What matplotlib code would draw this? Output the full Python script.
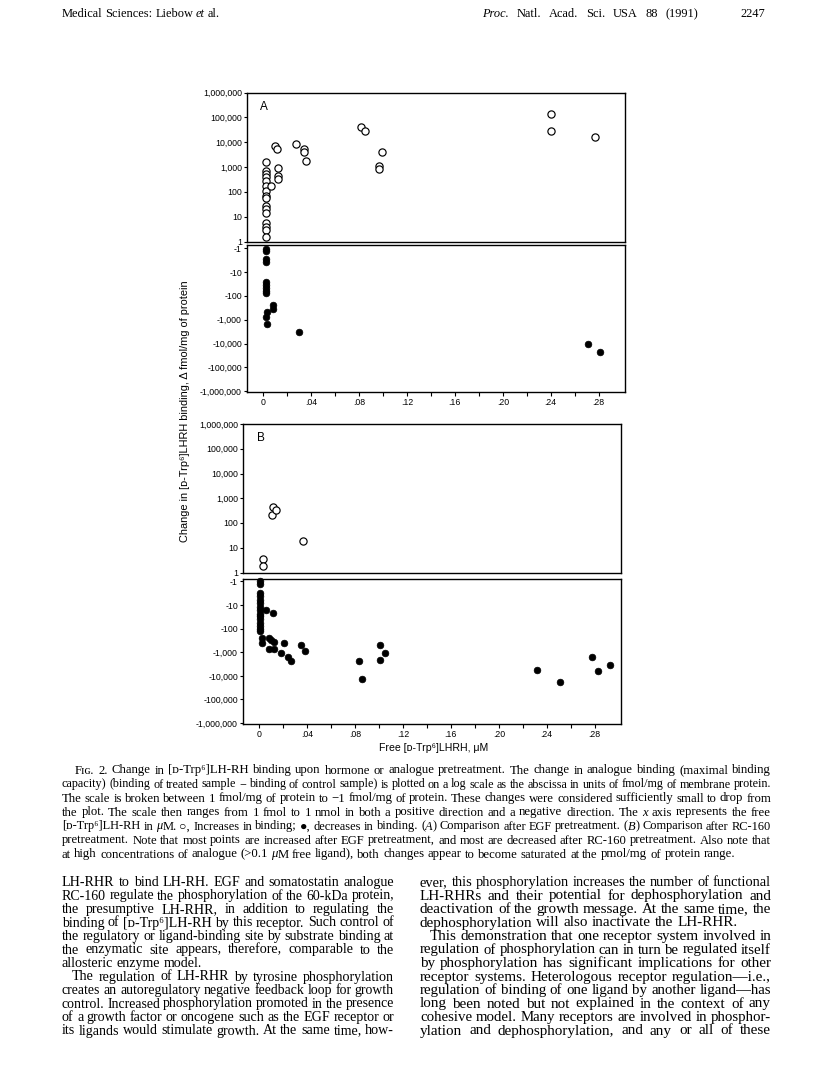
import numpy as np
import matplotlib
matplotlib.use('Agg')
import matplotlib.pyplot as plt
from matplotlib.ticker import FixedLocator, FuncFormatter, NullLocator
from matplotlib.font_manager import FontProperties

W, H, DPI = 816, 1082, 100

# ---------------- data (free ligand in uM, change in fmol/mg) ----------------
a_inc_x = [0.002] * 16 + [0.0068, 0.0095, 0.0117, 0.0127, 0.0127, 0.0127,
                          0.0272, 0.0342, 0.0342, 0.036, 0.0819, 0.0848,
                          0.0989, 0.0963, 0.0963, 0.2403, 0.2403, 0.277]
a_inc_y = [1580, 710, 520, 380, 275, 170, 107, 71, 57, 26, 20, 14, 5.4, 3.9,
           2.8, 1.5, 170, 7000, 5300, 900, 420, 320, 8500, 5500, 3900, 1800,
           40000, 29000, 4200, 1100, 800, 132000, 28000, 16500]

a_dec_x = [0.002] * 9 + [0.003, 0.002, 0.003, 0.0079, 0.0079, 0.0303,
                         0.2713, 0.281]
a_dec_y = [-1.1, -1.3, -2.8, -3.7, -27, -36, -48, -62, -76, -470, -800,
           -1500, -250, -350, -3200, -10200, -23000]

b_inc_x = [0.003, 0.003, 0.0104, 0.0115, 0.0144, 0.0369]
b_inc_y = [3.6, 1.9, 215, 430, 345, 19]

b_dec_x = [0.001] * 15 + [0.006, 0.0115, 0.002, 0.002, 0.0078, 0.0098,
                          0.0121, 0.0078, 0.0121, 0.0207, 0.0184, 0.0242,
                          0.0265, 0.0352, 0.0386, 0.083, 0.0862, 0.1009,
                          0.1009, 0.1052, 0.2317, 0.2513, 0.2778, 0.2824,
                          0.2925]
b_dec_y = [-1, -1.3, -3, -4.3, -6, -8.5, -12, -17, -23, -30, -40, -55, -75,
           -100, -125, -16, -21, -240, -410, -240, -300, -360, -700, -730,
           -390, -1070, -1620, -2240, -500, -860, -2400, -14000, -500, -2050,
           -1120, -5900, -18000, -1540, -6300, -3600]

y_decades = [1, 10, 100, 1000, 10000, 100000, 1000000]
x_ticks = [0, .02, .04, .06, .08, .10, .12, .14, .16, .18, .20, .22, .24, .26, .28]
x_tick_labels = ['0', '', '.04', '', '.08', '', '.12', '', '.16', '', '.20', '',
                 '.24', '', '.28']

SANS = ['Liberation Sans', 'DejaVu Sans']
SERIF = ['Liberation Serif', 'DejaVu Serif']

fig = plt.figure(figsize=(W / DPI, H / DPI), dpi=DPI)
renderer = fig.canvas.get_renderer()

def rect(l, r, t, b):
    return [l / W, 1 - b / H, (r - l) / W, (b - t) / H]

TICKFS = 6.3
XLIM = (-0.0135, 0.302)

def style_axes(ax, lower):
    for s in ax.spines.values():
        s.set_linewidth(1.0)
    ax.set_xlim(*XLIM)
    ax.set_yscale('log')
    ax.yaxis.set_major_locator(FixedLocator(y_decades))
    ax.yaxis.set_minor_locator(NullLocator())
    if lower:
        ax.yaxis.set_major_formatter(FuncFormatter(lambda v, p: '-{:,}'.format(int(round(v)))))
        ax.set_ylim(1.1e6, 0.75)
        ax.set_xticks(x_ticks)
        ax.set_xticklabels(x_tick_labels)
        ax.tick_params(axis='x', direction='out', length=3, width=0.8, pad=1.5,
                       labelsize=TICKFS)
    else:
        ax.yaxis.set_major_formatter(FuncFormatter(lambda v, p: '{:,}'.format(int(round(v)))))
        ax.set_ylim(1, 1e6)
        ax.set_xticks([])
    ax.tick_params(axis='y', direction='out', length=2.5, width=0.8, pad=1.2,
                   labelsize=TICKFS)
    for lab in ax.get_xticklabels() + ax.get_yticklabels():
        lab.set_fontfamily(SANS)

def open_pts(ax, x, y):
    ax.plot(x, y, linestyle='none', marker='o', markersize=5.2, markerfacecolor='white',
            markeredgecolor='black', markeredgewidth=0.85, clip_on=False)

def filled_pts(ax, x, y):
    ax.plot(x, -np.asarray(y), linestyle='none', marker='o', markersize=4.8,
            markerfacecolor='black', markeredgecolor='black', markeredgewidth=0.5,
            clip_on=False)

axA1 = fig.add_axes(rect(247, 625, 92.5, 241.5))
axA2 = fig.add_axes(rect(247, 625, 245.5, 392))
axB1 = fig.add_axes(rect(243, 621, 424, 572.5))
axB2 = fig.add_axes(rect(243, 621, 578.5, 724))

for ax, low in [(axA1, False), (axA2, True), (axB1, False), (axB2, True)]:
    style_axes(ax, low)

open_pts(axA1, a_inc_x, a_inc_y)
filled_pts(axA2, a_dec_x, a_dec_y)
open_pts(axB1, b_inc_x, b_inc_y)
filled_pts(axB2, b_dec_x, b_dec_y)

axA1.text(0.034, 0.905, 'A', transform=axA1.transAxes, fontsize=8.5,
          family=SANS, va='center', ha='left')
axB1.text(0.037, 0.905, 'B', transform=axB1.transAxes, fontsize=8.5,
          family=SANS, va='center', ha='left')

fig.text(185 / W, 1 - 411 / H, 'Change in [\u1d05-Trp\u2076]LHRH binding, \u0394 fmol/mg of protein',
         rotation=90, va='center', ha='center', fontsize=7.9, family=SANS)
fig.text(434 / W, 1 - 748 / H, 'Free [\u1d05-Trp\u2076]LHRH, \u03bcM',
         va='center', ha='center', fontsize=7.6, family=SANS)

# ---------------- page text ----------------
_fp_cache = {}
def fp(size, italic):
    key = (round(size, 3), italic)
    if key not in _fp_cache:
        _fp_cache[key] = FontProperties(family=SERIF, size=size,
                                        style='italic' if italic else 'normal')
    return _fp_cache[key]

def tw(s, size, italic):
    w, h, d = renderer.get_text_width_height_descent(s, fp(size, italic), ismath=False)
    return w

def parse(text):
    out = []
    for w in text.split(' '):
        parts = w.split('*')
        out.append([(p, i % 2 == 1) for i, p in enumerate(parts) if p])
    return out

def natural_width(text, size):
    parsed = parse(text)
    words = sum(tw(r, size, it) for runs in parsed for r, it in runs)
    return words + (len(parsed) - 1) * size * DPI / 72 * 0.25

def fit_size(text, width, ref=10.0):
    return ref * width / natural_width(text, ref)

def draw_line(text, x0, x1, ybase, size, justify, indent=0):
    parsed = parse(text)
    widths = [sum(tw(r, size, it) for r, it in runs) for runs in parsed]
    space = size * DPI / 72 * 0.25
    if justify and len(parsed) > 1:
        gap = (x1 - x0 - indent - sum(widths)) / (len(parsed) - 1)
    else:
        gap = space
    x = x0 + indent
    for runs, w in zip(parsed, widths):
        xx = x
        for r, it in runs:
            fig.text(xx / W, 1 - ybase / H, r, fontproperties=fp(size, it),
                     va='baseline', ha='left')
            xx += tw(r, size, it)
        x += w + gap

def draw_block(lines, x0, x1, y0, dy, last_flags, indents):
    sizes = [fit_size(l, x1 - x0 - ind) for l, ind, last in zip(lines, indents, last_flags) if not last]
    base = float(np.median(sizes))
    for i, (line, last, ind) in enumerate(zip(lines, last_flags, indents)):
        if last:
            s = base
        else:
            s = min(base, fit_size(line, x1 - x0 - ind))
        draw_line(line, x0, x1, y0 + dy * i, s, not last, indent=ind)

# header
hdr1 = 'Medical Sciences: Liebow *et al.*'
hdr2 = '*Proc. Natl. Acad. Sci. USA 88 (1991)*'
hsize = min(fit_size(hdr1, 158), fit_size(hdr2, 216), 10.5)
draw_line(hdr1, 62, 220, 17, hsize, True)
draw_line(hdr2, 482, 698, 17, hsize, True)
draw_line('2247', 740, 800, 17, hsize, False)

caption = [
    'F\u026a\u0262. 2. Change in [\u1d05-Trp\u2076]LH-RH binding upon hormone or analogue pretreatment. The change in analogue binding (maximal binding',
    'capacity) (binding of treated sample \u2212 binding of control sample) is plotted on a log scale as the abscissa in units of fmol/mg of membrane protein.',
    'The scale is broken between 1 fmol/mg of protein to \u22121 fmol/mg of protein. These changes were considered sufficiently small to drop from',
    'the plot. The scale then ranges from 1 fmol to 1 nmol in both a positive direction and a negative direction. The *x* axis represents the free',
    '[\u1d05-Trp\u2076]LH-RH in *\u03bc*M. \u25cb, Increases in binding; \u25cf, decreases in binding. (*A*) Comparison after EGF pretreatment. (*B*) Comparison after RC-160',
    'pretreatment. Note that most points are increased after EGF pretreatment, and most are decreased after RC-160 pretreatment. Also note that',
    'at high concentrations of analogue (>0.1 *\u03bc*M free ligand), both changes appear to become saturated at the pmol/mg of protein range.',
]
draw_block(caption, 62, 771, 773.5, 14,
           [False] * 6 + [True], [13] + [0] * 6)

left_col = [
    'LH-RHR to bind LH-RH. EGF and somatostatin analogue',
    'RC-160 regulate the phosphorylation of the 60-kDa protein,',
    'the presumptive LH-RHR, in addition to regulating the',
    'binding of [\u1d05-Trp\u2076]LH-RH by this receptor. Such control of',
    'the regulatory or ligand-binding site by substrate binding at',
    'the enzymatic site appears, therefore, comparable to the',
    'allosteric enzyme model.',
    'The regulation of LH-RHR by tyrosine phosphorylation',
    'creates an autoregulatory negative feedback loop for growth',
    'control. Increased phosphorylation promoted in the presence',
    'of a growth factor or oncogene such as the EGF receptor or',
    'its ligands would stimulate growth. At the same time, how-',
]
right_col = [
    'ever, this phosphorylation increases the number of functional',
    'LH-RHRs and their potential for dephosphorylation and',
    'deactivation of the growth message. At the same time, the',
    'dephosphorylation will also inactivate the LH-RHR.',
    'This demonstration that one receptor system involved in',
    'regulation of phosphorylation can in turn be regulated itself',
    'by phosphorylation has significant implications for other',
    'receptor systems. Heterologous receptor regulation\u2014i.e.,',
    'regulation of binding of one ligand by another ligand\u2014has',
    'long been noted but not explained in the context of any',
    'cohesive model. Many receptors are involved in phosphor-',
    'ylation and dephosphorylation, and any or all of these',
]
draw_block(left_col, 62, 394, 886, 13.5,
           [i == 6 for i in range(12)], [10 if i == 7 else 0 for i in range(12)])
draw_block(right_col, 420, 771, 886, 13.5,
           [i == 3 for i in range(12)], [10 if i == 4 else 0 for i in range(12)])

fig.savefig('out.png', dpi=DPI, facecolor='white')
